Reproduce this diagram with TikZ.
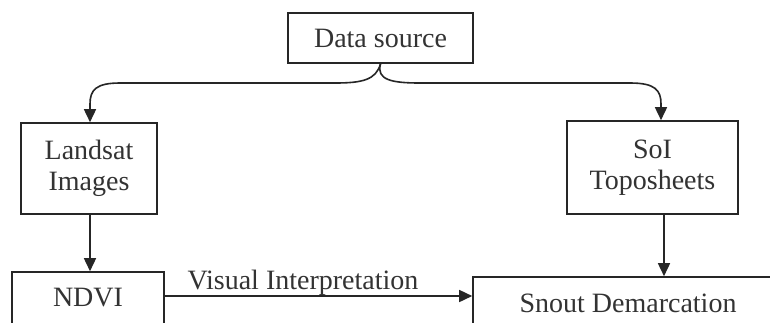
\documentclass[tikz,border=0pt]{standalone}
\usepackage{fontspec}
\setmainfont{Liberation Serif}
\usetikzlibrary{arrows.meta,calc}
\begin{document}
\begin{tikzpicture}[x=1pt,y=-1pt,
  box/.style={draw=black!85,line width=1.6pt,fill=white,inner sep=0pt,align=center,text=black!80,font=\fontsize{28}{31}\selectfont},
  arr/.style={draw=black!85,line width=1.6pt,-{Triangle[length=13pt,width=12pt]}},
  lbl/.style={text=black!80,font=\fontsize{28}{31}\selectfont,inner sep=0pt}]
\useasboundingbox (0,0) rectangle (770,322);
\clip (0,0) rectangle (770,322);
\fill[white] (0,0) rectangle (770,322);
\node[box,minimum width=185pt,minimum height=50pt] (ds) at (380.5,38) {Data source};
\node[box,minimum width=136pt,minimum height=91pt] (land) at (89,168.5) {Landsat\\Images};
\node[box,minimum width=171pt,minimum height=93pt] (soi) at (652.5,167.5) {SoI\\Toposheets};
\node[box,minimum width=152pt,minimum height=52pt] (ndvi) at (88,298) {NDVI};
\node[box,minimum width=310pt,minimum height=52pt] (snout) at (628,303) {Snout Demarcation};
\coordinate (lb) at (120,83);
\coordinate (rb) at (630,83);
\draw[arr] (ds.south) .. controls (376,80) and (362,83) .. (335,83) -- (lb) .. controls (96,83) and (90,90) .. (90,104) -- ([xshift=1pt]land.north);
\draw[arr] (ds.south) .. controls (376,80) and (392,83) .. (420,83) -- (rb) .. controls (655,83) and (661,90) .. (661,104) -- ([xshift=8.5pt]soi.north);
\draw[arr] ([xshift=1pt]land.south) -- ([xshift=2pt]ndvi.north);
\draw[arr] ([xshift=11.5pt]soi.south) -- ([xshift=11.5pt]soi.south |- snout.north);
\draw[arr] ([yshift=2pt]ndvi.east) -- ([yshift=2pt]ndvi.east -| snout.west);
\node[lbl,anchor=base] (vi) at (303,289) {Visual Interpretation};
\end{tikzpicture}
\end{document}
